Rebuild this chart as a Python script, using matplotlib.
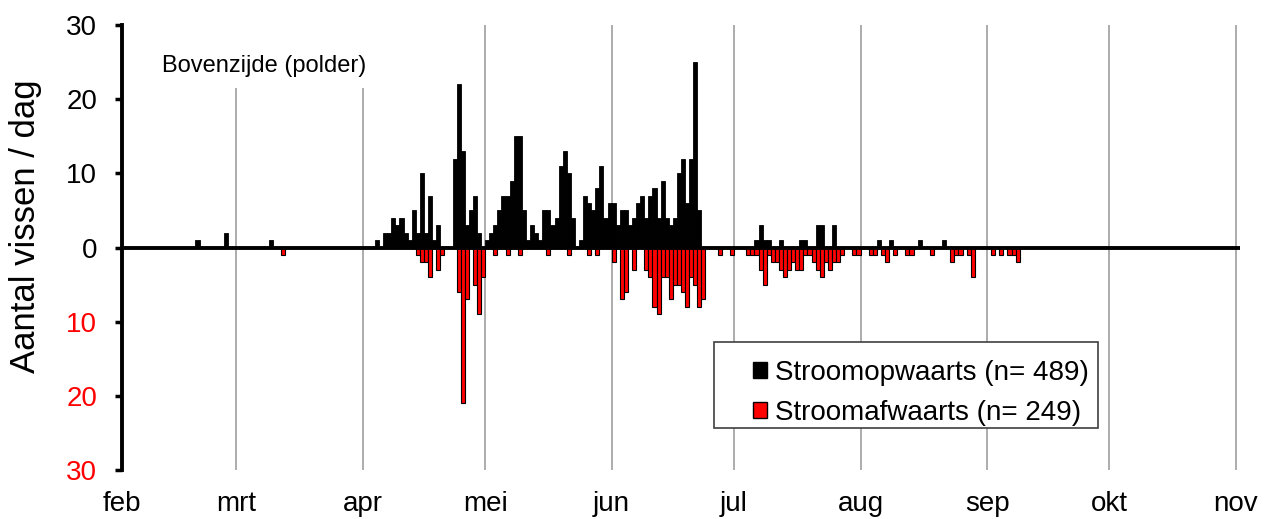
import matplotlib
matplotlib.use("Agg")
import matplotlib.pyplot as plt
from matplotlib.patches import Patch, Rectangle

plt.rcParams['font.family'] = ['Liberation Sans', 'DejaVu Sans']

# days counted from 1 February
month_labels = ['feb', 'mrt', 'apr', 'mei', 'jun', 'jul', 'aug', 'sep', 'okt', 'nov']
month_starts = [0, 28, 59, 89, 120, 150, 181, 212, 242, 273]

# upstream passages (stroomopwaarts)
up_days = [18, 25, 36,
           62, 64, 65, 66, 67, 68, 69, 70, 71, 72, 73, 74, 75, 76, 77,
           81, 82, 83, 84, 85, 86, 87, 89, 90, 91, 92, 93, 94, 95, 96, 97,
           98, 99, 100, 101, 102, 103, 104, 105, 106, 107, 108, 109, 110, 112,
           113, 114, 115, 116, 117, 118,
           119, 120, 121, 122, 123, 124, 125, 126, 127, 128, 129, 130,
           131, 132, 133, 134, 135, 136, 137, 138, 139, 140, 141,
           155, 156, 157, 158, 161, 166, 167, 170, 171, 174, 185, 188, 195, 201]
up_counts = [1, 2, 1,
             1, 2, 2, 4, 3, 4, 2, 1, 5, 2, 10, 2, 7, 1, 3,
             12, 22, 13, 3, 5, 7, 2, 1, 2, 3, 5, 7, 7, 9, 15, 15,
             5, 1, 3, 2, 1, 5, 5, 3, 4, 11, 13, 10, 4, 1,
             7, 6, 5, 8, 11, 4,
             6, 6, 3, 5, 5, 3, 4, 6, 7, 4, 7, 8,
             4, 9, 4, 3, 4, 10, 12, 6, 12, 25, 5,
             1, 3, 1, 1, 1, 1, 1, 3, 3, 3, 1, 1, 1, 1]

# downstream passages (stroomafwaarts)
down_days = [39,
             72, 73, 74, 75, 77, 78,
             82, 83, 84, 86, 87, 88,
             91, 94, 97, 104, 109, 114, 116,
             120, 122, 123, 125, 128, 129, 130,
             131, 132, 133, 134, 135, 136, 137, 138, 139, 140, 141, 142,
             146, 149,
             153, 154, 155, 156, 157, 158, 159, 160, 161, 162, 163, 164, 165,
             166, 167, 168, 169, 170, 171, 172, 173, 174, 175, 176, 179, 180,
             183, 184, 186, 187, 189,
             192, 193, 198, 203, 204, 205, 207, 208, 213, 215, 217, 218, 219]
down_counts = [1,
               1, 2, 2, 4, 3, 1,
               6, 21, 7, 5, 9, 4,
               1, 1, 1, 1, 1, 1, 1,
               2, 7, 6, 3, 3, 4, 8,
               9, 4, 4, 7, 5, 5, 6, 8, 4, 5, 8, 7,
               1, 1,
               1, 1, 1, 3, 5, 1, 2, 2, 3, 4, 3, 2, 3,
               3, 1, 1, 2, 3, 4, 2, 3, 2, 2, 1, 1, 1,
               1, 1, 1, 2, 1,
               1, 1, 1, 2, 1, 1, 1, 4, 1, 1, 1, 1, 2]

y_ticks = [-30, -20, -10, 0, 10, 20, 30]

fig = plt.figure(figsize=(12.66, 5.19), dpi=100)
ax = fig.add_axes([122 / 1266, 49 / 519, 1118 / 1266, 445 / 519])

ax.bar(up_days, up_counts, width=1.0, align='edge', color='black',
       edgecolor='black', linewidth=0.6, zorder=3)
ax.bar(down_days, [-v for v in down_counts], width=1.0, align='edge',
       color='#ff0000', edgecolor='black', linewidth=0.8, zorder=3)

# month gridlines
for m in month_starts[1:]:
    ax.axvline(m, color='#a6a6a6', linewidth=1.3, zorder=1)

# white box behind the title text
ax.add_patch(Rectangle((28 / 1118, 382 / 445), 262 / 1118, 63 / 445,
                       transform=ax.transAxes, facecolor='white',
                       edgecolor='none', zorder=2))
ax.text(40 / 1118, 1 - 41 / 445, 'Bovenzijde (polder)', transform=ax.transAxes,
        fontsize=17, va='center', ha='left', zorder=4)

ax.axhline(0, color='black', linewidth=2.8, zorder=5)

ax.set_xlim(0, 274)
ax.set_ylim(-30, 30)
ax.set_xticks(month_starts)
ax.set_xticklabels(month_labels, fontsize=20)
ax.tick_params(axis='x', length=0, pad=15)

ax.set_yticks(y_ticks)
ax.set_yticklabels([str(abs(v)) for v in y_ticks], fontsize=20)
for lab, v in zip(ax.get_yticklabels(), y_ticks):
    lab.set_color('#ff0000' if v < 0 else 'black')
ax.tick_params(axis='y', direction='out', length=5, width=2.5, pad=13)

for s in ['top', 'right', 'bottom']:
    ax.spines[s].set_visible(False)
ax.spines['left'].set_linewidth(2.8)

ax.set_ylabel('Aantal vissen / dag', fontsize=25)
ax.yaxis.set_label_coords(-80 / 1118, 244 / 445)

# legend with its own frame
fig.patches.append(Rectangle((714 / 1266, 91 / 519), 384 / 1266, 86 / 519,
                             transform=fig.transFigure, facecolor='white',
                             edgecolor='#404040', linewidth=1.2, zorder=6))
handles = [Patch(facecolor='black', edgecolor='black'),
           Patch(facecolor='#ff0000', edgecolor='black')]
labels = ['Stroomopwaarts (n= 489)', 'Stroomafwaarts (n= 249)']
leg = fig.legend(handles, labels, loc='upper left',
                 bbox_to_anchor=(739 / 1266, 1 - 346 / 519),
                 frameon=False, fontsize=20, borderpad=0, labelspacing=0.5,
                 handlelength=0.5, handleheight=0.5, handletextpad=0.3)
leg.set_zorder(7)

fig.savefig('out.png', dpi=100)
